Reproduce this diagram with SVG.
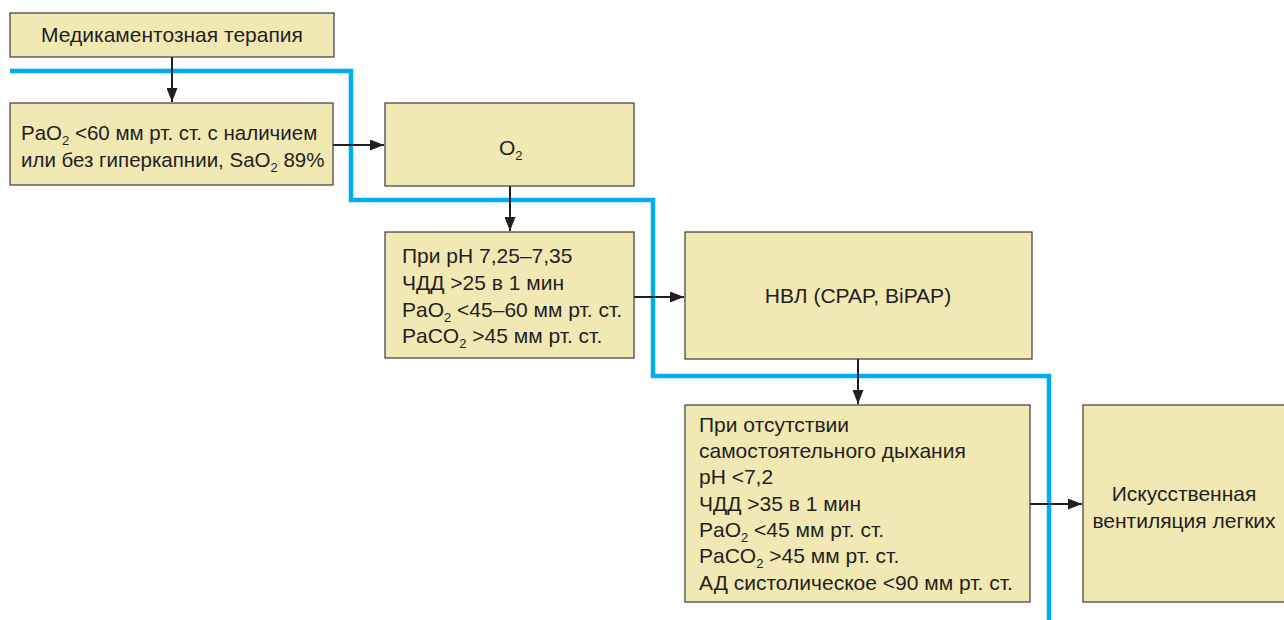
<svg xmlns="http://www.w3.org/2000/svg" width="1284" height="620" viewBox="0 0 1284 620">
<style>
.box{fill:#f2e8b4;stroke:#3a3a3a;stroke-width:1.2}
.t{font-family:"Liberation Sans",Arial,sans-serif;font-size:21px;fill:#231f20}
.t2{font-size:20.5px}
.c{text-anchor:middle}
.sub{font-size:13px}
.arr{stroke:#231f20;stroke-width:2;fill:none;marker-end:url(#ah)}
.blue{stroke:#00aeef;stroke-width:4.5;fill:none}
</style>
<defs>
<marker id="ah" viewBox="0 0 14 11" refX="14" refY="5.5" markerWidth="14" markerHeight="11" markerUnits="userSpaceOnUse" orient="auto">
<path d="M0,0 L14,5.5 L0,11 Z" fill="#231f20"/>
</marker>
</defs>
<rect width="1284" height="620" fill="#ffffff"/>
<g id="connectors">
<path class="blue" d="M10,71 H351 V200 H653 V376 H1049 V620"/>
<path class="arr" d="M172,57 V102"/>
<path class="arr" d="M333,145 H384"/>
<path class="arr" d="M510,186 V231"/>
<path class="arr" d="M634,297 H684"/>
<path class="arr" d="M858,359 V404"/>
<path class="arr" d="M1030,504 H1082"/>
</g>
<g id="n1">
<rect class="box" x="10" y="13" width="324" height="44"/>
<text class="t c" x="172" y="42">Медикаментозная терапия</text>
</g>
<g id="n2">
<rect class="box" x="10" y="103" width="323" height="82"/>
<text class="t t2" x="21" y="140">PaO<tspan class="sub" dy="5">2</tspan><tspan dy="-5"> &lt;60 мм рт. ст. с наличием</tspan></text>
<text class="t t2" x="21" y="167">или без гиперкапнии, SaO<tspan class="sub" dy="5">2</tspan><tspan dy="-5"> 89%</tspan></text>
</g>
<g id="n3">
<rect class="box" x="385" y="103" width="249" height="83"/>
<text class="t" x="499" y="155">O<tspan class="sub" dy="5">2</tspan></text>
</g>
<g id="n4">
<rect class="box" x="385" y="232" width="249" height="126"/>
<text class="t" x="402" y="263">При pH 7,25–7,35</text>
<text class="t" x="402" y="290">ЧДД &gt;25 в 1 мин</text>
<text class="t" x="402" y="317">PaO<tspan class="sub" dy="5">2</tspan><tspan dy="-5"> &lt;45–60 мм рт. ст.</tspan></text>
<text class="t" x="402" y="343">PaCO<tspan class="sub" dy="5">2</tspan><tspan dy="-5"> &gt;45 мм рт. ст.</tspan></text>
</g>
<g id="n5">
<rect class="box" x="685" y="232" width="347" height="127"/>
<text class="t c" x="858" y="303">НВЛ (CPAP, BiPAP)</text>
</g>
<g id="n6">
<rect class="box" x="685" y="405" width="345" height="197"/>
<text class="t" x="699" y="432">При отсутствии</text>
<text class="t" x="699" y="458">самостоятельного дыхания</text>
<text class="t" x="699" y="484">pH &lt;7,2</text>
<text class="t" x="699" y="511">ЧДД &gt;35 в 1 мин</text>
<text class="t" x="699" y="537">PaO<tspan class="sub" dy="5">2</tspan><tspan dy="-5"> &lt;45 мм рт. ст.</tspan></text>
<text class="t" x="699" y="563">PaCO<tspan class="sub" dy="5">2</tspan><tspan dy="-5"> &gt;45 мм рт. ст.</tspan></text>
<text class="t" x="699" y="590">АД систолическое &lt;90 мм рт. ст.</text>
</g>
<g id="n7">
<rect class="box" x="1083" y="405" width="210" height="197"/>
<text class="t c" x="1184" y="501">Искусственная</text>
<text class="t c" x="1184" y="528">вентиляция легких</text>
</g>
</svg>
